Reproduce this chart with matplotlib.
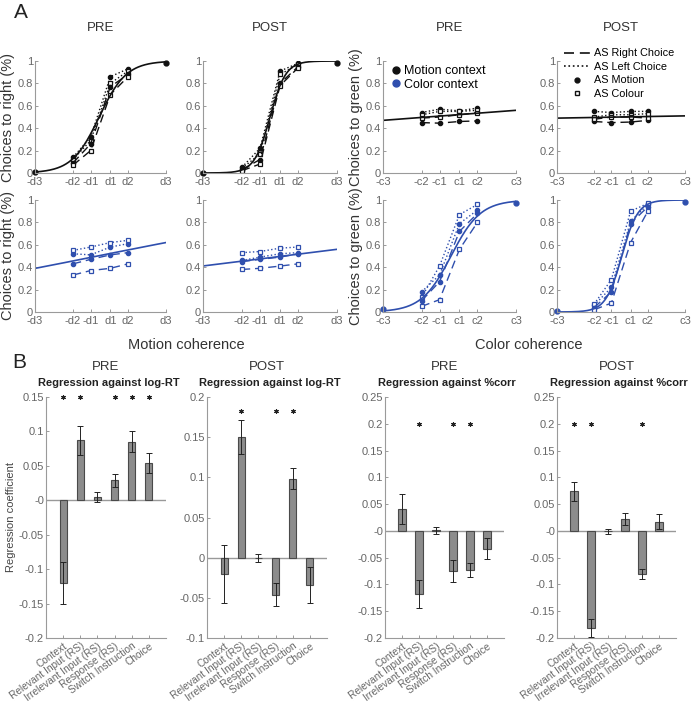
import numpy as np
import matplotlib
matplotlib.use('Agg')
import matplotlib.pyplot as plt
from matplotlib.lines import Line2D
from matplotlib.ticker import FuncFormatter

plt.rcParams['font.family'] = ['Liberation Sans', 'DejaVu Sans']

BLACK = '#111111'
BLUE = '#2f4fae'
TXT = '#666666'
SPINE = '#9a9a9a'

# ---------------- Panel A data ----------------
coh_x = [-1.0, -0.42, -0.15, 0.15, 0.42, 1.0]
mid_x = [-0.42, -0.15, 0.15, 0.42]
motion_ticks = ['-d3', '-d2', '-d1', 'd1', 'd2', 'd3']
color_ticks = ['-c3', '-c2', '-c1', 'c1', 'c2', 'c3']

# PRE, motion context, motion coherence
p1_left_motion = [0.14, 0.32, 0.86, 0.93]
p1_left_colour = [0.12, 0.29, 0.80, 0.91]
p1_right_motion = [0.09, 0.26, 0.77, 0.88]
p1_right_colour = [0.07, 0.20, 0.70, 0.86]
# POST, motion context, motion coherence
p2_left_motion = [0.05, 0.22, 0.91, 0.98]
p2_left_colour = [0.04, 0.17, 0.88, 0.97]
p2_right_motion = [0.03, 0.12, 0.80, 0.95]
p2_right_colour = [0.02, 0.08, 0.78, 0.94]
# PRE, motion context, color coherence
p3_left_motion = [0.54, 0.57, 0.555, 0.58]
p3_left_colour = [0.52, 0.55, 0.55, 0.56]
p3_right_motion = [0.45, 0.445, 0.46, 0.465]
p3_right_colour = [0.49, 0.50, 0.52, 0.54]
# POST, motion context, color coherence
p4_left_motion = [0.55, 0.54, 0.55, 0.55]
p4_left_colour = [0.50, 0.52, 0.52, 0.53]
p4_right_motion = [0.46, 0.45, 0.455, 0.47]
p4_right_colour = [0.48, 0.50, 0.50, 0.49]
# PRE, color context, motion coherence
p5_left_motion = [0.52, 0.51, 0.58, 0.61]
p5_left_colour = [0.55, 0.58, 0.62, 0.64]
p5_right_motion = [0.43, 0.47, 0.51, 0.53]
p5_right_colour = [0.33, 0.37, 0.39, 0.43]
# POST, color context, motion coherence
p6_left_motion = [0.46, 0.49, 0.52, 0.53]
p6_left_colour = [0.53, 0.54, 0.57, 0.58]
p6_right_motion = [0.45, 0.47, 0.49, 0.52]
p6_right_colour = [0.38, 0.39, 0.41, 0.43]
# PRE, color context, color coherence
p7_left_motion = [0.18, 0.33, 0.79, 0.91]
p7_left_colour = [0.13, 0.41, 0.87, 0.96]
p7_right_motion = [0.10, 0.27, 0.72, 0.88]
p7_right_colour = [0.05, 0.11, 0.56, 0.80]
# POST, color context, color coherence
p8_left_motion = [0.06, 0.22, 0.81, 0.96]
p8_left_colour = [0.07, 0.29, 0.90, 0.97]
p8_right_motion = [0.04, 0.18, 0.79, 0.94]
p8_right_colour = [0.02, 0.08, 0.62, 0.90]

# logistic fit parameters (bias, slope)
fit_params = [(0.1, 4.8), (0.0, 8.5), (0.06, 0.18), (0.0, 0.04),
              (0.02, 0.47), (-0.06, 0.30), (-0.1, 4.5), (-0.1, 8.0)]
# end points at +-3 (only where the context matches the coherence)
end_vals = [(0.01, 0.98), (0.0, 0.98), None, None,
            None, None, (0.03, 0.97), (0.01, 0.98)]

# ---------------- Panel B data ----------------
categories = ['Context', 'Relevant Input (RS)', 'Irrelevant Input (RS)',
              'Response (RS)', 'Switch Instruction', 'Choice']
rt_pre = [-0.120, 0.087, 0.005, 0.029, 0.085, 0.054]
rt_pre_err = [0.031, 0.021, 0.007, 0.009, 0.015, 0.014]
rt_pre_sig = [1, 1, 0, 1, 1, 1]
rt_post = [-0.020, 0.150, -0.001, -0.046, 0.098, -0.034]
rt_post_err = [0.036, 0.021, 0.005, 0.014, 0.013, 0.023]
rt_post_sig = [0, 1, 0, 1, 1, 0]
corr_pre = [0.041, -0.118, 0.001, -0.075, -0.073, -0.033]
corr_pre_err = [0.028, 0.026, 0.006, 0.021, 0.013, 0.020]
corr_pre_sig = [0, 1, 0, 1, 1, 0]
corr_post = [0.074, -0.182, -0.001, 0.022, -0.081, 0.017]
corr_post_err = [0.018, 0.017, 0.004, 0.011, 0.009, 0.014]
corr_post_sig = [1, 1, 0, 0, 1, 0]

# ---------------- Figure ----------------
W, H = 694, 702
fig = plt.figure(figsize=(W / 100, H / 100), dpi=100)


def px_axes(left, top, right, bottom):
    return fig.add_axes([left / W, 1 - bottom / H, (right - left) / W, (bottom - top) / H])


def style(ax, fs=8):
    for s in ['top', 'right']:
        ax.spines[s].set_visible(False)
    for s in ['left', 'bottom']:
        ax.spines[s].set_color(SPINE)
        ax.spines[s].set_linewidth(0.8)
    ax.tick_params(direction='in', length=2.5, width=0.7, color=SPINE,
                   labelcolor=TXT, labelsize=fs, pad=1.5)


gfmt = FuncFormatter(lambda v, p: ('%g' % round(v, 3)))

col_lr = [(35, 166), (203, 337), (383, 516), (557, 685)]
row_tb = [(61, 173), (200, 312)]

panels = [
    (p1_left_motion, p1_left_colour, p1_right_motion, p1_right_colour),
    (p2_left_motion, p2_left_colour, p2_right_motion, p2_right_colour),
    (p3_left_motion, p3_left_colour, p3_right_motion, p3_right_colour),
    (p4_left_motion, p4_left_colour, p4_right_motion, p4_right_colour),
    (p5_left_motion, p5_left_colour, p5_right_motion, p5_right_colour),
    (p6_left_motion, p6_left_colour, p6_right_motion, p6_right_colour),
    (p7_left_motion, p7_left_colour, p7_right_motion, p7_right_colour),
    (p8_left_motion, p8_left_colour, p8_right_motion, p8_right_colour),
]

xs = np.linspace(-1, 1, 200)
axesA = []
for i in range(8):
    r, c = divmod(i, 4)
    ax = px_axes(col_lr[c][0], row_tb[r][0], col_lr[c][1], row_tb[r][1])
    axesA.append(ax)
    style(ax, fs=8)
    col = BLACK if r == 0 else BLUE
    lm, lc, rm, rc = panels[i]
    dash = (6, 3.5)
    ax.plot(mid_x, lm, ls=':', lw=1.0, color=col, marker='o', ms=3.0, mfc=col, mec=col)
    ax.plot(mid_x, lc, ls=':', lw=1.0, color=col, marker='s', ms=3.0, mfc='white', mec=col, mew=0.9)
    ax.plot(mid_x, rm, ls='--', dashes=dash, lw=1.0, color=col, marker='o', ms=3.0, mfc=col, mec=col)
    ax.plot(mid_x, rc, ls='--', dashes=dash, lw=1.0, color=col, marker='s', ms=3.0, mfc='white', mec=col, mew=0.9)
    a, k = fit_params[i]
    ax.plot(xs, 1 / (1 + np.exp(-(a + k * xs))), color=col, lw=1.2)
    if end_vals[i] is not None:
        ax.plot([-1, 1], list(end_vals[i]), ls='none', marker='o', ms=3.5, color=col, clip_on=False)
    ax.set_xlim(-1, 1)
    ax.set_ylim(0, 1)
    ax.set_xticks(coh_x)
    ax.set_xticklabels(motion_ticks if c < 2 else color_ticks)
    ax.set_yticks([0, 0.2, 0.4, 0.6, 0.8, 1])
    ax.yaxis.set_major_formatter(gfmt)
    ax.tick_params(axis='x', pad=3)
    ax.tick_params(axis='y', pad=1.5)
    if c == 0:
        ax.set_ylabel('Choices to right (%)', fontsize=10.5, color='#333333', labelpad=1.5)
    if c == 2:
        ax.set_ylabel('Choices to green (%)', fontsize=10.5, color='#333333', labelpad=1.5)

# column titles A
for c, t in enumerate(['PRE', 'POST', 'PRE', 'POST']):
    fig.text((col_lr[c][0] + col_lr[c][1]) / 2 / W, 1 - 28 / H, t, ha='center', va='center',
             fontsize=9.5, color='#333333')
fig.text(14 / W, 1 - 12 / H, 'A', fontsize=15, ha='left', va='center', color='#222222')
fig.text(186 / W, 1 - 345 / H, 'Motion coherence', fontsize=10.5, ha='center', va='center', color='#333333')
fig.text(529 / W, 1 - 345 / H, 'Color coherence', fontsize=10.5, ha='center', va='center', color='#333333')

# legends
h_ctx = [Line2D([], [], ls='none', marker='o', ms=5, color=BLACK, label='Motion context'),
         Line2D([], [], ls='none', marker='o', ms=5, color=BLUE, label='Color context')]
axesA[2].legend(handles=h_ctx, loc='upper left', bbox_to_anchor=(0.0, 1.03), frameon=False,
                fontsize=9, handlelength=0.8, handletextpad=0.3, labelspacing=0.12,
                borderaxespad=0.2)
h_as = [Line2D([], [], ls='--', dashes=(6, 3.5), lw=1.2, color=BLACK, label='AS Right Choice'),
        Line2D([], [], ls=':', lw=1.2, color=BLACK, label='AS Left Choice'),
        Line2D([], [], ls='none', marker='o', ms=3.5, color=BLACK, label='AS Motion'),
        Line2D([], [], ls='none', marker='s', ms=3.5, mfc='white', mec=BLACK, mew=1, label='AS Colour')]
axesA[3].legend(handles=h_as, loc='upper left', bbox_to_anchor=(0.0, 1.17), frameon=False,
                fontsize=7.8, handlelength=2.4, handletextpad=0.4, labelspacing=0.32,
                borderaxespad=0.2)

# ---------------- Panel B ----------------
b_cols = [(46, 166), (207, 327), (385, 504), (557, 676)]
b_top, b_bot = 397, 638
b_sets = [
    (rt_pre, rt_pre_err, rt_pre_sig, (-0.2, 0.15), 0.15, 'PRE', 'Regression against log-RT'),
    (rt_post, rt_post_err, rt_post_sig, (-0.1, 0.2), 0.183, 'POST', 'Regression against log-RT'),
    (corr_pre, corr_pre_err, corr_pre_sig, (-0.2, 0.25), 0.2, 'PRE', 'Regression against %corr'),
    (corr_post, corr_post_err, corr_post_sig, (-0.2, 0.25), 0.2, 'POST', 'Regression against %corr'),
]
xpos = np.arange(1, len(categories) + 1)
for j, (vals, errs, sig, ylim, star_y, t1, t2) in enumerate(b_sets):
    ax = px_axes(b_cols[j][0], b_top, b_cols[j][1], b_bot)
    style(ax, fs=8)
    ax.axhline(0, color='#999999', lw=1.0, zorder=1)
    ax.bar(xpos, vals, width=0.42, color='#8c8c8c', edgecolor='#4a4a4a', lw=0.8, zorder=2)
    ax.errorbar(xpos, vals, yerr=errs, fmt='none', ecolor='#222222', elinewidth=0.7,
                capsize=2, capthick=0.7, zorder=3)
    sx = [x for x, s in zip(xpos, sig) if s]
    ax.plot(sx, [star_y] * len(sx), ls='none', marker=(6, 2, 0), ms=3.2, mew=0.8,
            color='#222222', clip_on=False, zorder=4)
    ax.set_xlim(0, 7)
    ax.set_ylim(*ylim)
    ax.set_yticks(np.arange(ylim[0], ylim[1] + 1e-9, 0.05))
    ax.yaxis.set_major_formatter(gfmt)
    ax.set_xticks(xpos)
    ax.set_xticklabels(categories, rotation=36, ha='right', va='top', rotation_mode='anchor',
                       fontsize=7.3)
    ax.tick_params(axis='x', pad=2)
    ax.text(0.5, 1.123, t1, transform=ax.transAxes, ha='center', va='center', fontsize=9.5,
            color='#333333')
    ax.text(0.52, 1.057, t2, transform=ax.transAxes, ha='center', va='center', fontsize=8,
            fontweight='bold', color='#222222')
    if j == 0:
        ax.set_ylabel('Regression coefficient', fontsize=8, color='#444444', labelpad=2)

fig.text(12 / W, 1 - 362 / H, 'B', fontsize=15, ha='left', va='center', color='#222222')

fig.savefig('out.png', dpi=100)
